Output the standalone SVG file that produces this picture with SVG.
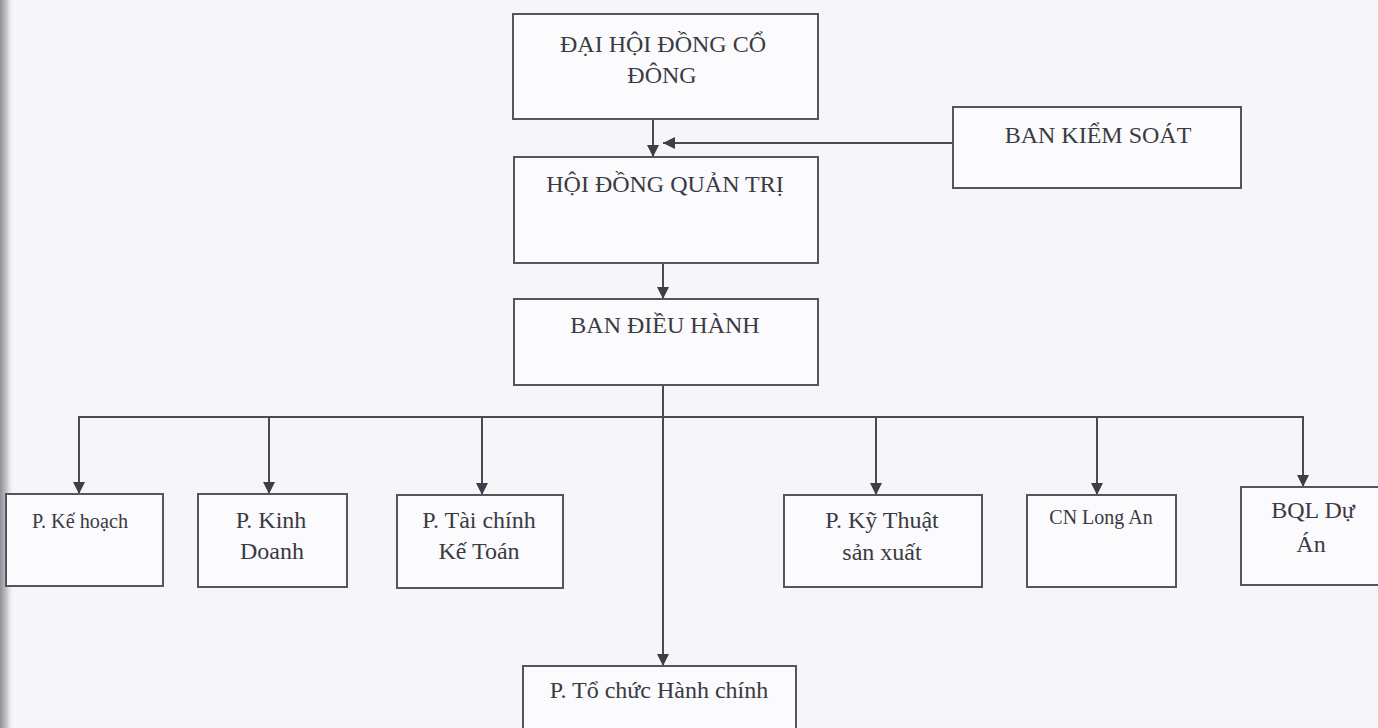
<svg xmlns="http://www.w3.org/2000/svg" width="1378" height="728" viewBox="0 0 1378 728">
  <defs>
    <linearGradient id="edge" x1="0" y1="0" x2="1" y2="0">
      <stop offset="0" stop-color="#8e8e96"/>
      <stop offset="0.5" stop-color="#c9c8ce"/>
      <stop offset="1" stop-color="#f6f5f8" stop-opacity="0"/>
    </linearGradient>
    <marker id="ah" viewBox="0 0 12 12" refX="12" refY="6" markerWidth="12" markerHeight="12" markerUnits="userSpaceOnUse" orient="auto">
      <path d="M0,0 L12,6 L0,12 z" fill="#3e3e48"/>
    </marker>
  </defs>
  <style>
    .box { fill: #fbfafc; stroke: #55555f; stroke-width: 2; }
    .t { font-family: "Liberation Serif", "Times New Roman", serif; font-size: 24px; fill: #3a3a42; text-anchor: middle; }
    .s { font-size: 20px; }
    .c { fill: none; stroke: #4a4a54; stroke-width: 2; }
  </style>
  <rect x="0" y="0" width="1378" height="728" fill="#f6f5f8"/>
  <rect x="0" y="0" width="14" height="728" fill="url(#edge)"/>

  <g id="connectors">
    <line class="c" x1="653" y1="119" x2="653" y2="157" marker-end="url(#ah)"/>
    <line class="c" x1="953" y1="143" x2="663" y2="143" marker-end="url(#ah)"/>
    <line class="c" x1="663" y1="263" x2="663" y2="299" marker-end="url(#ah)"/>
    <line class="c" x1="663" y1="385" x2="663" y2="666" marker-end="url(#ah)"/>
    <line class="c" x1="79" y1="417" x2="1303" y2="417"/>
    <line class="c" x1="79" y1="416" x2="79" y2="494" marker-end="url(#ah)"/>
    <line class="c" x1="269" y1="416" x2="269" y2="494" marker-end="url(#ah)"/>
    <line class="c" x1="482" y1="416" x2="482" y2="495" marker-end="url(#ah)"/>
    <line class="c" x1="876" y1="416" x2="876" y2="495" marker-end="url(#ah)"/>
    <line class="c" x1="1097" y1="416" x2="1097" y2="495" marker-end="url(#ah)"/>
    <line class="c" x1="1303" y1="416" x2="1303" y2="487" marker-end="url(#ah)"/>
  </g>

  <g id="dai-hoi-dong-co-dong">
    <rect class="box" x="513" y="14" width="305" height="105"/>
    <text class="t" x="663" y="52">ĐẠI HỘI ĐỒNG CỔ</text>
    <text class="t" x="662" y="83">ĐÔNG</text>
  </g>
  <g id="ban-kiem-soat">
    <rect class="box" x="953" y="107" width="288" height="81"/>
    <text class="t" x="1098" y="143">BAN KIỂM SOÁT</text>
  </g>
  <g id="hoi-dong-quan-tri">
    <rect class="box" x="514" y="157" width="304" height="106"/>
    <text class="t" x="665" y="192">HỘI ĐỒNG QUẢN TRỊ</text>
  </g>
  <g id="ban-dieu-hanh">
    <rect class="box" x="514" y="299" width="304" height="86"/>
    <text class="t" x="665" y="333">BAN ĐIỀU HÀNH</text>
  </g>
  <g id="p-ke-hoach">
    <rect class="box" x="6" y="494" width="157" height="92"/>
    <text class="t s" x="80" y="528" textLength="96" lengthAdjust="spacingAndGlyphs">P. Kế hoạch</text>
  </g>
  <g id="p-kinh-doanh">
    <rect class="box" x="198" y="494" width="149" height="93"/>
    <text class="t" x="271" y="528">P. Kinh</text>
    <text class="t" x="272" y="559">Doanh</text>
  </g>
  <g id="p-tai-chinh-ke-toan">
    <rect class="box" x="397" y="495" width="166" height="93"/>
    <text class="t" x="479" y="528">P. Tài chính</text>
    <text class="t" x="479" y="559">Kế Toán</text>
  </g>
  <g id="p-ky-thuat-san-xuat">
    <rect class="box" x="784" y="495" width="198" height="92"/>
    <text class="t" x="882" y="528">P. Kỹ Thuật</text>
    <text class="t" x="882" y="560">sản xuất</text>
  </g>
  <g id="cn-long-an">
    <rect class="box" x="1027" y="495" width="149" height="92"/>
    <text class="t s" x="1101" y="524">CN Long An</text>
  </g>
  <g id="bql-du-an">
    <rect class="box" x="1241" y="487" width="150" height="98"/>
    <text class="t" x="1313" y="518">BQL Dự</text>
    <text class="t" x="1311" y="552">Án</text>
  </g>
  <g id="p-to-chuc-hanh-chinh">
    <rect class="box" x="523" y="666" width="273" height="80"/>
    <text class="t" x="659" y="698">P. Tổ chức Hành chính</text>
  </g>
</svg>
